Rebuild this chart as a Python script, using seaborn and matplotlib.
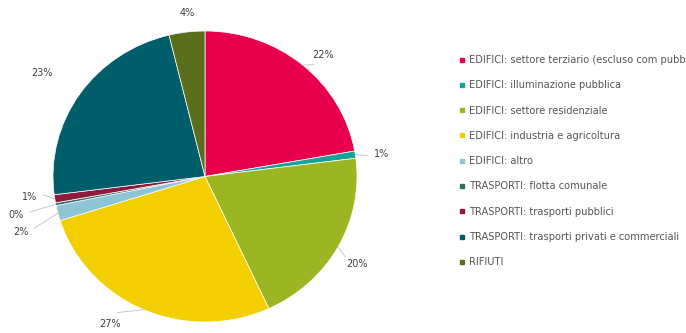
import numpy as np
import matplotlib
matplotlib.use("Agg")
import matplotlib.pyplot as plt
from matplotlib.lines import Line2D
import seaborn as sns

# Emission shares by sector (%)
categories = [
    "EDIFICI: settore terziario (escluso com pubbl.)",
    "EDIFICI: illuminazione pubblica",
    "EDIFICI: settore residenziale",
    "EDIFICI: industria e agricoltura",
    "EDIFICI: altro",
    "TRASPORTI: flotta comunale",
    "TRASPORTI: trasporti pubblici",
    "TRASPORTI: trasporti privati e commerciali",
    "RIFIUTI",
]
shares = [22.2, 0.8, 20.1, 27.0, 1.7, 0.3, 0.9, 23.2, 3.8]
colors = [
    "#E8004C", "#17A398", "#9BB622", "#F4CF00", "#8DC4D6",
    "#2F6D60", "#8C1B3E", "#005E6B", "#5B6E1C",
]

# label placement: radial distance and small angular nudge (degrees)
label_r = [1.14, 1.17, 1.17, 1.19, 1.27, 1.27, 1.16, 1.29, 1.13]
label_dang = [-3, -1, -2, -8, 3, 1, -2, 1, -1]
leader = [True, True, True, True, True, True, True, False, False]

sns.set_theme(style="white")
plt.rcParams["font.family"] = ["DejaVu Sans"]

fig = plt.figure(figsize=(6.86, 3.33), dpi=100)
W, H = 686, 333
left, right, top, bottom = 53, 357, 31, 322
ax = fig.add_axes([left / W, (H - bottom) / H, (right - left) / W, (bottom - top) / H])

palette = sns.color_palette(colors)
wedges, _ = ax.pie(
    shares,
    colors=palette,
    startangle=90,
    counterclock=False,
    radius=1.0,
    wedgeprops=dict(edgecolor="white", linewidth=0.5),
)
ax.set_aspect("auto")
ax.set_xlim(-1, 1)
ax.set_ylim(-1, 1)
ax.axis("off")

total = sum(shares)
for w, val, r, da, ld in zip(wedges, shares, label_r, label_dang, leader):
    mid = np.deg2rad((w.theta1 + w.theta2) / 2)
    ang = mid + np.deg2rad(da)
    tx, ty = r * np.cos(ang), r * np.sin(ang)
    txt = f"{round(val / total * 100):.0f}%"
    if ld:
        ex, ey = 1.0 * np.cos(mid), 1.0 * np.sin(mid)
        lx, ly = (r - 0.09) * np.cos(ang), (r - 0.09) * np.sin(ang)
        ax.plot([ex, lx], [ey, ly], color="#c0c0c0", lw=0.6, clip_on=False)
    ax.text(tx, ty, txt, ha="center", va="center", fontsize=7,
            color="#404040", clip_on=False)

handles = [
    Line2D([0], [0], marker="s", linestyle="none", markersize=3.4,
           markerfacecolor=c, markeredgecolor=c)
    for c in palette
]
fig.legend(
    handles, categories,
    loc="upper left",
    bbox_to_anchor=(459 / W, (H - 55) / H),
    frameon=False,
    fontsize=7.1,
    labelcolor="#555555",
    handlelength=0.6,
    handletextpad=0.45,
    labelspacing=1.55,
    borderpad=0.0,
    borderaxespad=0.0,
)

fig.savefig("out.png", dpi=100)
